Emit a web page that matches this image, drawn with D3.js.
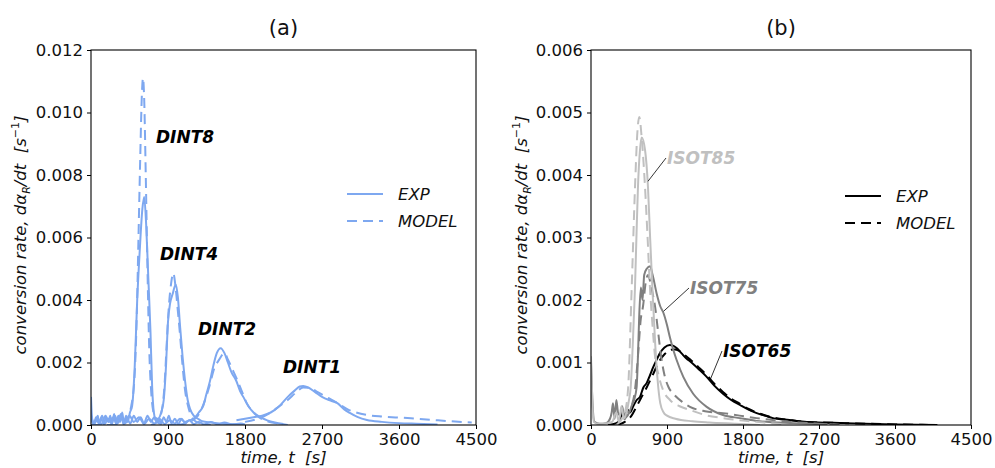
<!DOCTYPE html>
<html>
<head>
<meta charset="utf-8">
<script src="https://cdn.jsdelivr.net/npm/d3@7"></script>
<style>
  body { margin: 0; background: #fff; }
  svg { font-family: "DejaVu Sans", sans-serif; }
  .tick text { font-size: 16.5px; fill: #111; }
  .tick line { stroke: #000; }
</style>
</head>
<body>
<svg id="chart" width="995" height="468"></svg>
<script>
// ---- data: [time s, conversion rate 1/s] ----
var xTicks = [0, 900, 1800, 2700, 3600, 4500];
var yTicksA = [0, 0.002, 0.004, 0.006, 0.008, 0.010, 0.012];
var yTicksB = [0, 0.001, 0.002, 0.003, 0.004, 0.005, 0.006];

var dint8Exp = [[0,0.0009],[10,0.0003],[25,0.00005],[50,0.0001],[80,0.0003],[95,0.00003],[120,0.0002],[150,0.00002],[175,0.00025],[200,0.0001],[225,0.0003],[245,0.00002],[270,0.00035],[290,0.00005],[320,0.0003],[340,0.0001],[365,0.0004],[385,0.00005],[410,0.0003],[430,0.0001],[455,0.0004],[480,0.0006],[510,0.0018],[540,0.0040],[570,0.0056],[600,0.0069],[622,0.0073],[645,0.0064],[670,0.0047],[695,0.0030],[715,0.0012],[735,0.0004],[760,0.00015],[790,0.0002],[820,0.00005],[850,0.00025],[880,0.0001],[910,0.0003],[940,0.00005],[980,0.0002],[1020,0.00003],[1060,0.0002],[1100,0.00005],[1150,0.00015],[1200,0.00003],[1260,0.0001],[1320,0.00002],[1400,0.0001],[1480,0.00002],[1560,0.00008],[1650,0.00002],[1750,0.00005],[1800,0.00001]];
var dint8Model = [[0,0],[300,0],[420,0.0002],[470,0.0006],[510,0.0016],[535,0.0035],[555,0.0060],[575,0.0085],[595,0.0106],[608,0.0111],[622,0.0104],[640,0.0080],[660,0.0050],[680,0.0025],[705,0.0010],[730,0.0004],[770,0.0001],[850,0.00002],[1000,0]];
var dint4Exp = [[0,0.0002],[30,0.00002],[60,0.00025],[90,0.00005],[130,0.0003],[160,0.00003],[200,0.0002],[240,0.00005],[280,0.0003],[310,0.0001],[350,0.00035],[380,0.00002],[420,0.0002],[460,0.00005],[500,0.0003],[540,0.0001],[580,0.00025],[620,0.00005],[660,0.0003],[700,0.0001],[740,0.00025],[780,0.0002],[820,0.0004],[850,0.0008],[875,0.0018],[900,0.0033],[925,0.0039],[955,0.0042],[990,0.0045],[1015,0.0041],[1040,0.0032],[1070,0.0022],[1100,0.0014],[1130,0.0008],[1160,0.0005],[1200,0.0003],[1250,0.0002],[1300,0.00012],[1400,0.00008],[1500,0.00005],[1600,0.00003],[1700,0.00002],[1800,0.00001]];
var dint4Model = [[700,0],[780,0.0001],[830,0.0005],[860,0.0013],[885,0.0026],[910,0.0038],[935,0.0045],[962,0.00486],[985,0.0045],[1010,0.0038],[1040,0.0029],[1070,0.0019],[1100,0.0011],[1135,0.0006],[1170,0.0003],[1220,0.00012],[1300,0.00004],[1400,0]];
var dint2Exp = [[0,0.0003],[40,0.00005],[80,0.0002],[120,0.00002],[170,0.0003],[210,0.0001],[260,0.00025],[300,0.00003],[350,0.0002],[400,0.00005],[450,0.0003],[500,0.0001],[560,0.00025],[620,0.00003],[680,0.0002],[740,0.00005],[800,0.0002],[860,0.00003],[920,0.00015],[980,0.00005],[1040,0.0002],[1100,0.0001],[1150,0.00015],[1200,0.0002],[1260,0.0004],[1310,0.0006],[1350,0.0010],[1390,0.0014],[1430,0.0019],[1470,0.0023],[1516,0.00246],[1560,0.0023],[1600,0.0020],[1640,0.0017],[1700,0.0014],[1740,0.0011],[1780,0.0009],[1840,0.0006],[1900,0.0004],[1980,0.00025],[2060,0.00015],[2150,0.00008],[2250,0.00003]];
var dint2Model = [[1000,0],[1150,0.0001],[1250,0.0003],[1320,0.0007],[1380,0.0012],[1440,0.0018],[1500,0.0021],[1560,0.0023],[1600,0.0021],[1650,0.0018],[1700,0.0015],[1760,0.0011],[1820,0.0007],[1900,0.0004],[1980,0.00022],[2080,0.0001],[2200,0.00004],[2300,0]];
var dint1Exp = [[1700,0.00015],[1800,0.0002],[1900,0.00025],[2000,0.0003],[2100,0.0004],[2200,0.0006],[2300,0.0009],[2380,0.0011],[2440,0.00123],[2480,0.00125],[2540,0.0012],[2620,0.00105],[2700,0.0009],[2800,0.00078],[2880,0.0007],[2960,0.0005],[3030,0.00038],[3120,0.00025],[3225,0.00016],[3400,0.0001],[3600,0.00006],[3800,0.00004],[4050,0.00002]];
var dint1Model = [[1800,0.0001],[1950,0.0002],[2100,0.0004],[2200,0.0006],[2300,0.0008],[2400,0.00105],[2480,0.0012],[2560,0.00118],[2650,0.00105],[2750,0.0009],[2880,0.0007],[3000,0.0005],[3100,0.0004],[3225,0.00032],[3400,0.00027],[3600,0.00024],[3800,0.0002],[4000,0.00016],[4200,0.00012],[4450,0.00008]];

var isot85Exp = [[0,0.0011],[15,0.0004],[35,0.00005],[80,0.00002],[150,0.00002],[250,0.00005],[300,0.0002],[330,0.00005],[360,0.0003],[390,0.0001],[420,0.0002],[450,0.0004],[470,0.0006],[495,0.0013],[521,0.0022],[540,0.0031],[556,0.0038],[580,0.0044],[600,0.0046],[640,0.0044],[675,0.0038],[700,0.0030],[730,0.0021],[760,0.0013],[790,0.0007],[820,0.00035],[860,0.0002],[900,0.00015],[1000,0.0001],[1200,0.00006],[1400,0.00004],[1700,0.00002],[2000,0]];
var isot85Model = [[300,0],[400,0.0002],[440,0.0006],[482,0.0022],[521,0.0038],[550,0.0047],[572,0.00493],[600,0.0046],[640,0.0038],[670,0.0030],[698,0.0022],[728,0.0016],[758,0.0011],[800,0.0008],[853,0.00056],[935,0.0004],[1050,0.0003],[1172,0.00024],[1350,0.00016],[1563,0.00011],[1800,0.00007],[1960,0.00005],[2300,0.00001]];
var isot75Exp = [[0,0.0010],[20,0.0003],[40,0.00005],[100,0.00002],[180,0.00003],[225,0.0001],[245,0.0002],[260,0.00035],[280,0.0001],[300,0.0004],[320,0.0002],[345,0.00015],[370,0.0003],[395,0.0001],[420,0.00025],[450,0.0002],[480,0.0003],[510,0.0004],[540,0.0006],[556,0.0011],[570,0.0017],[590,0.0022],[610,0.0020],[630,0.0024],[660,0.0025],[700,0.00254],[730,0.0024],[778,0.0021],[820,0.0019],[856,0.0018],[900,0.0016],[935,0.0014],[975,0.0012],[1014,0.00104],[1093,0.00077],[1210,0.0005],[1370,0.00029],[1563,0.00016],[1764,0.00011],[2000,0.00006],[2400,0.00003],[2800,0.00001]];
var isot75Model = [[400,0.0001],[480,0.0003],[521,0.00056],[556,0.0011],[590,0.0017],[616,0.0019],[650,0.0023],[675,0.0024],[700,0.0023],[730,0.0021],[758,0.0019],[794,0.0015],[830,0.0011],[870,0.0008],[920,0.0006],[975,0.0005],[1080,0.00037],[1172,0.00029],[1350,0.00022],[1563,0.00019],[1760,0.00015],[1960,0.00011],[2150,0.00008],[2356,0.00005],[2700,0.00002],[3000,0]];
var isot65Exp = [[200,0],[300,0.00003],[343,0.00008],[370,0.0002],[400,0.0001],[430,0.00025],[460,0.0002],[500,0.0003],[541,0.0004],[580,0.00045],[620,0.0006],[659,0.00067],[700,0.0008],[738,0.00093],[780,0.00105],[817,0.00115],[870,0.00124],[935,0.00128],[970,0.00127],[1014,0.00123],[1070,0.00115],[1133,0.00106],[1172,0.00102],[1270,0.0009],[1370,0.00077],[1460,0.00063],[1563,0.0005],[1660,0.0004],[1764,0.00032],[1860,0.00025],[1962,0.00019],[2060,0.00015],[2155,0.00011],[2350,0.00008],[2557,0.00005],[3000,0.00003],[3600,0.00001],[4100,0]];
var isot65Model = [[300,0],[400,0.00005],[480,0.00015],[541,0.0003],[600,0.00045],[659,0.0006],[738,0.00082],[800,0.001],[876,0.00114],[935,0.0012],[990,0.00121],[1040,0.00119],[1100,0.00113],[1172,0.00105],[1270,0.00093],[1370,0.0008],[1460,0.00066],[1563,0.00053],[1660,0.00042],[1764,0.00034],[1860,0.00026],[1962,0.0002],[2155,0.00012],[2350,0.00008],[2557,0.00005],[3000,0.00003],[3600,0.00001],[4100,0]];

var blue = "#7ea8f0";
var dash = "10,6";

var svg = d3.select("#chart");

function drawPanel(opt) {
  var x = d3.scaleLinear().domain([0, 4500]).range([opt.left, opt.right]);
  var y = d3.scaleLinear().domain([0, opt.ymax]).range([425, 50]);

  var g = svg.append("g");

  var clipId = "clip" + opt.id;
  g.append("clipPath").attr("id", clipId)
    .append("rect")
    .attr("x", opt.left).attr("y", 50)
    .attr("width", opt.right - opt.left).attr("height", 375);

  var line = d3.line()
    .x(function(d) { return x(d[0]); })
    .y(function(d) { return y(d[1]); })
    .curve(d3.curveMonotoneX);

  var plot = g.append("g").attr("clip-path", "url(#" + clipId + ")");
  opt.series.forEach(function(s) {
    plot.append("path")
      .datum(s.data)
      .attr("fill", "none")
      .attr("stroke", s.color)
      .attr("stroke-width", 2)
      .attr("stroke-dasharray", s.dashed ? dash : null)
      .attr("d", line);
  });

  // frame
  g.append("rect")
    .attr("x", opt.left).attr("y", 50)
    .attr("width", opt.right - opt.left).attr("height", 375)
    .attr("fill", "none").attr("stroke", "#000").attr("stroke-width", 1.1);

  var xa = g.append("g").attr("transform", "translate(0,425)")
    .call(d3.axisBottom(x).tickValues(xTicks).tickSize(4).tickPadding(4).tickFormat(d3.format("d")));
  var ya = g.append("g").attr("transform", "translate(" + opt.left + ",0)")
    .call(d3.axisLeft(y).tickValues(opt.yTicks).tickSize(4).tickPadding(4).tickFormat(d3.format(".3f")));
  xa.select(".domain").remove();
  ya.select(".domain").remove();
  g.selectAll(".tick text").attr("font-family", "DejaVu Sans").attr("font-size", null);

  // title
  g.append("text")
    .attr("x", (opt.left + opt.right) / 2).attr("y", 35)
    .attr("text-anchor", "middle").attr("font-size", 21).attr("fill", "#111")
    .text(opt.title);

  // x label
  var xl = g.append("text")
    .attr("x", (opt.left + opt.right) / 2).attr("y", 463)
    .attr("text-anchor", "middle").attr("font-size", 16.5).attr("fill", "#111")
    .attr("font-style", "italic");
  xl.append("tspan").text("time, t\u00a0\u00a0[s]");

  // y label
  var yl = g.append("text")
    .attr("transform", "translate(" + opt.ylabelX + ",235) rotate(-90)")
    .attr("text-anchor", "middle").attr("font-size", 16.5).attr("fill", "#111")
    .attr("font-style", "italic");
  yl.append("tspan").text("conversion rate, d\u03b1");
  yl.append("tspan").attr("font-size", 11).attr("dy", 4).text("R");
  yl.append("tspan").attr("dy", -4).text("/dt\u00a0\u00a0[s");
  yl.append("tspan").attr("font-size", 11).attr("font-style", "normal").attr("dy", -7).text("\u22121");
  yl.append("tspan").attr("dy", 7).text("]");

  // legend
  var lg = g.append("g");
  [["EXP", false, 0], ["MODEL", true, 27]].forEach(function(it) {
    lg.append("line")
      .attr("x1", opt.legX).attr("x2", opt.legX + 36)
      .attr("y1", opt.legY + it[2]).attr("y2", opt.legY + it[2])
      .attr("stroke", opt.legColor).attr("stroke-width", 2)
      .attr("stroke-dasharray", it[1] ? dash : null);
    lg.append("text")
      .attr("x", opt.legX + 51).attr("y", opt.legY + it[2] + 6)
      .attr("font-size", 16.5).attr("font-style", "italic").attr("fill", "#111")
      .text(it[0]);
  });

  // annotations
  opt.notes.forEach(function(n) {
    if (n.from) {
      g.append("line")
        .attr("x1", x(n.from[0])).attr("y1", y(n.from[1]))
        .attr("x2", n.x - 1).attr("y2", n.y - 6)
        .attr("stroke", "#000").attr("stroke-width", 0.8);
    }
    g.append("text")
      .attr("x", n.x).attr("y", n.y)
      .attr("font-size", 17).attr("font-weight", "bold").attr("font-style", "italic")
      .attr("fill", n.color)
      .text(n.label);
  });
}

drawPanel({
  id: "a", title: "(a)", left: 91, right: 476, ymax: 0.012, yTicks: yTicksA, ylabelX: 26,
  legX: 347, legY: 194, legColor: blue,
  series: [
    {data: dint8Exp, color: blue}, {data: dint8Model, color: blue, dashed: true},
    {data: dint4Exp, color: blue}, {data: dint4Model, color: blue, dashed: true},
    {data: dint2Exp, color: blue}, {data: dint2Model, color: blue, dashed: true},
    {data: dint1Exp, color: blue}, {data: dint1Model, color: blue, dashed: true}
  ],
  notes: [
    {label: "DINT8", x: 156, y: 143, color: "#000"},
    {label: "DINT4", x: 160, y: 260, color: "#000"},
    {label: "DINT2", x: 198, y: 335, color: "#000"},
    {label: "DINT1", x: 283, y: 373, color: "#000"}
  ]
});

drawPanel({
  id: "b", title: "(b)", left: 591, right: 971, ymax: 0.006, yTicks: yTicksB, ylabelX: 527,
  legX: 845, legY: 196, legColor: "#000",
  series: [
    {data: isot65Exp, color: "#000"}, {data: isot65Model, color: "#000", dashed: true},
    {data: isot75Exp, color: "#808080"}, {data: isot75Model, color: "#808080", dashed: true},
    {data: isot85Exp, color: "#c0c0c0"}, {data: isot85Model, color: "#c0c0c0", dashed: true}
  ],
  notes: [
    {label: "ISOT85", x: 667, y: 164, color: "#c0c0c0", from: [675, 0.0039]},
    {label: "ISOT75", x: 690, y: 294, color: "#808080", from: [860, 0.00182]},
    {label: "ISOT65", x: 723, y: 357, color: "#000", from: [1410, 0.00072]}
  ]
});
</script>
</body>
</html>
